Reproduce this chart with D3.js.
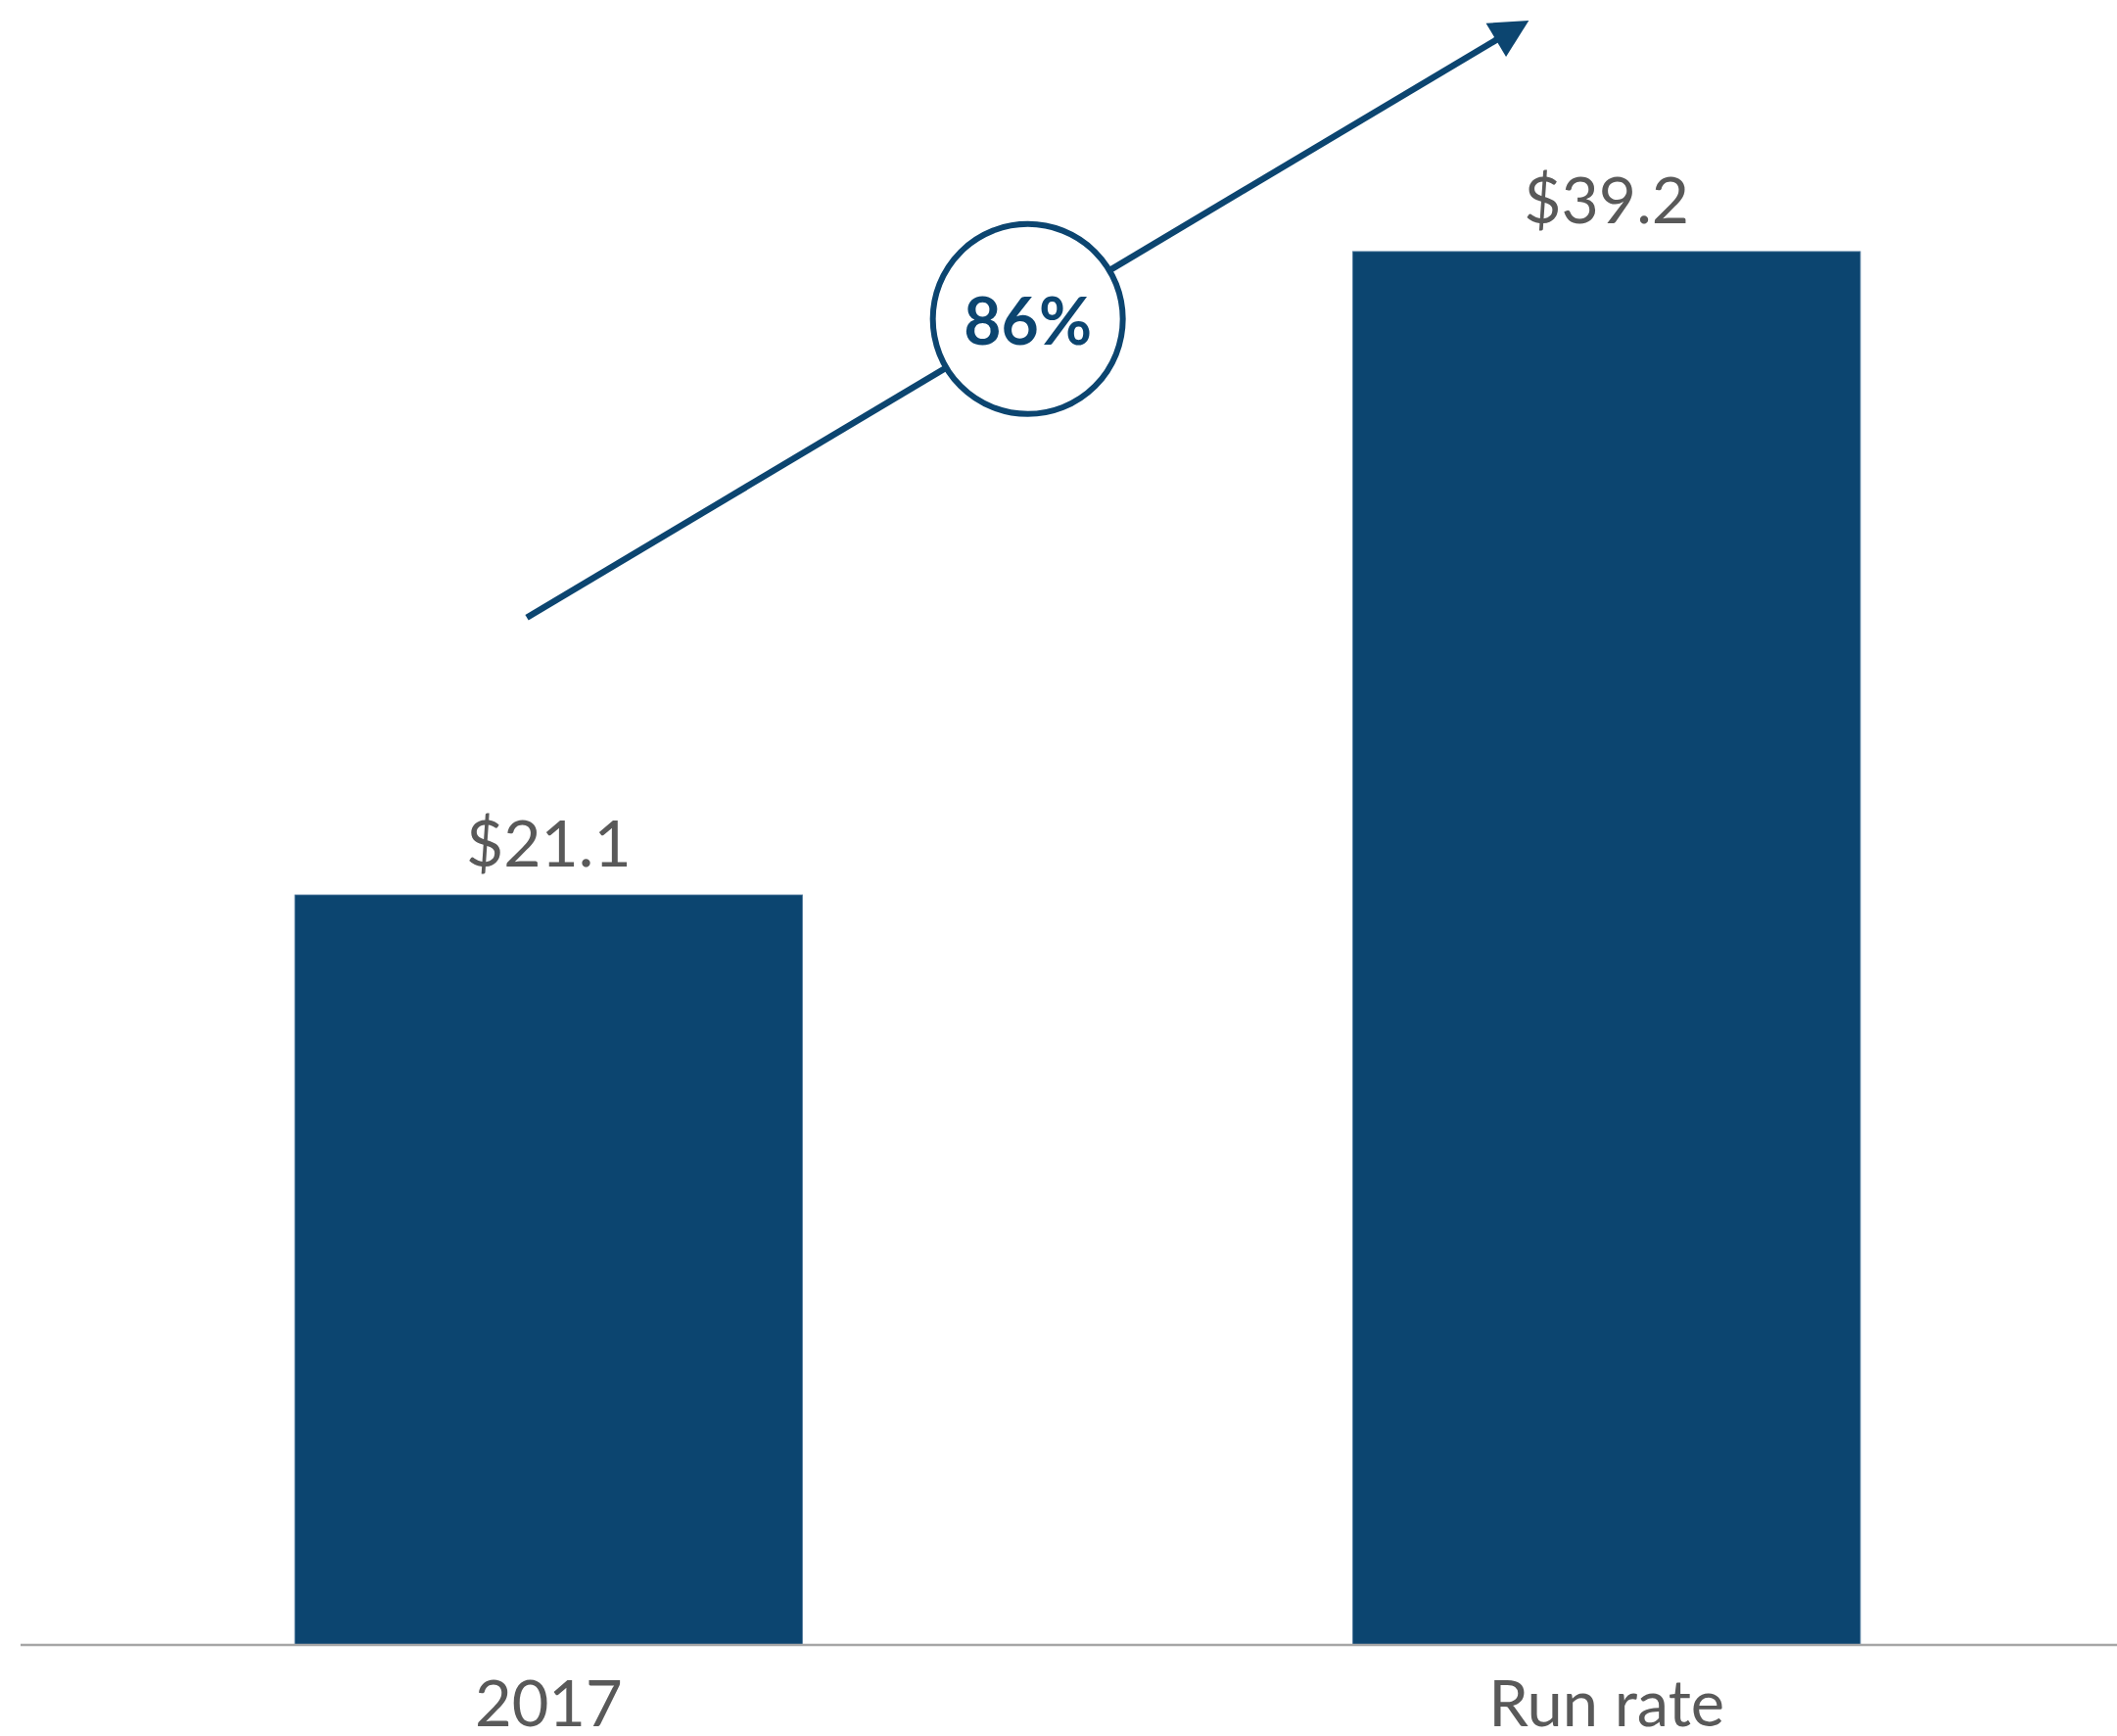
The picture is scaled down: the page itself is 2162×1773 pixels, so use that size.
<!DOCTYPE html>
<html>
<head>
<meta charset="utf-8">
<script src="https://cdn.jsdelivr.net/npm/d3@7"></script>
<style>
  html, body { margin: 0; padding: 0; background: #ffffff; }
  svg { display: block; }
</style>
</head>
<body>
<script>
// Revenue comparison: 2017 vs. current run rate ($)
const categories = ["2017", "Run rate"];
const values = [21.1, 39.2];
const valueLabels = ["$21.1", "$39.2"];

const W = 2162, H = 1773;
const navy = "#0c4570";
const grey = "#595959";

const svg = d3.select("body").append("svg")
  .attr("width", W).attr("height", H)
  .attr("viewBox", `0 0 ${W} ${H}`);

const x = d3.scaleBand()
  .domain(categories)
  .range([31, 2170])
  .paddingInner(0.52)
  .paddingOuter(0.25);

const y = d3.scaleLinear()
  .domain([0, 46])
  .range([1680, 10]);

// bars
svg.append("g").selectAll("rect")
  .data(values)
  .join("rect")
  .attr("x", (d, i) => x(categories[i]))
  .attr("y", d => y(d))
  .attr("width", x.bandwidth())
  .attr("height", d => y(0) - y(d))
  .attr("fill", navy)
  .attr("stroke", "#5a80a3")
  .attr("stroke-width", 0.8);

// baseline
svg.append("line")
  .attr("x1", 21).attr("x2", W)
  .attr("y1", y(0)).attr("y2", y(0))
  .attr("stroke", "#a6a6a6")
  .attr("stroke-width", 2.5);

// value labels
svg.append("g").selectAll("text")
  .data(values)
  .join("text")
  .attr("x", (d, i) => x(categories[i]) + x.bandwidth() / 2)
  .attr("y", d => y(d) - 29)
  .attr("text-anchor", "middle")
  .attr("font-family", "Lato, 'Open Sans', sans-serif")
  .attr("font-size", 66)
  .attr("fill", grey)
  .text((d, i) => valueLabels[i]);

// category labels
svg.append("g").selectAll("text")
  .data(categories)
  .join("text")
  .attr("x", d => x(d) + x.bandwidth() / 2)
  .attr("y", y(0) + 83)
  .attr("text-anchor", "middle")
  .attr("font-family", "Lato, 'Open Sans', sans-serif")
  .attr("font-size", 65)
  .attr("fill", grey)
  .text(d => d);

// growth arrow, placed in data space
const growth = Math.round((values[1] / values[0] - 1) * 100) + "%";
const arrowFrom = { cat: categories[0], frac: 0.457, v: 28.9 };
const arrowTo = { cat: categories[1], frac: 0.347, v: 45.7 };
const p0 = [x(arrowFrom.cat) + x.bandwidth() * arrowFrom.frac, y(arrowFrom.v)];
const p1 = [x(arrowTo.cat) + x.bandwidth() * arrowTo.frac, y(arrowTo.v)];
const dx = p1[0] - p0[0], dy = p1[1] - p0[1];
const len = Math.hypot(dx, dy);
const ux = dx / len, uy = dy / len;
const headLen = 39, headHalf = 20;
const base = [p1[0] - ux * headLen, p1[1] - uy * headLen];

svg.append("line")
  .attr("x1", p0[0]).attr("y1", p0[1])
  .attr("x2", base[0] + ux * 2).attr("y2", base[1] + uy * 2)
  .attr("stroke", navy)
  .attr("stroke-width", 6.5);

svg.append("path")
  .attr("d", d3.line()([
    p1,
    [base[0] - uy * headHalf, base[1] + ux * headHalf],
    [base[0] + uy * headHalf, base[1] - ux * headHalf]
  ]) + "Z")
  .attr("fill", navy);

// growth badge at the arrow midpoint
const c = [(p0[0] + p1[0]) / 2, (p0[1] + p1[1]) / 2];
svg.append("circle")
  .attr("cx", c[0]).attr("cy", c[1])
  .attr("r", 97)
  .attr("fill", "#ffffff")
  .attr("stroke", navy)
  .attr("stroke-width", 6);

svg.append("text")
  .attr("x", c[0])
  .attr("y", c[1] + 26)
  .attr("text-anchor", "middle")
  .attr("font-family", "Lato, 'Open Sans', sans-serif")
  .attr("font-weight", "bold")
  .attr("font-size", 66)
  .attr("fill", navy)
  .text(growth);
</script>
</body>
</html>
